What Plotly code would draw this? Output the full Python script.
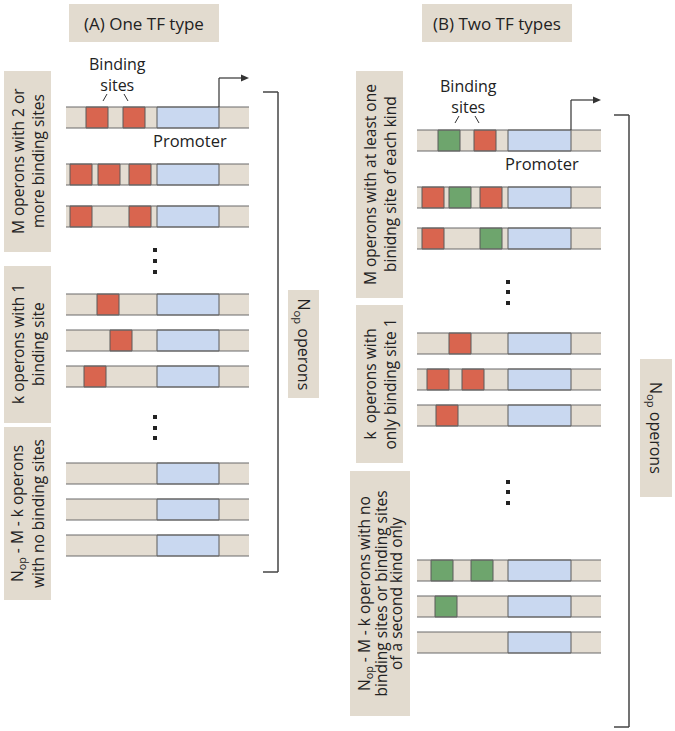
import plotly.graph_objects as go

# ---------------- data ----------------
titles = ["(A) One TF type", "(B) Two TF types"]

# Panel A: operon rows (top y in px) and binding-site starts (x)
rows_a_y = [107, 164, 206, 294, 330, 366, 463, 499, 535]
sites_a = [[86, 123], [70, 98, 129], [70, 129], [97], [110], [84], [], [], []]

# Panel B: operon rows and binding sites (x, kind)
rows_b_y = [130, 187, 228, 333, 369, 405, 560, 596, 632]
sites_b = [
    [(438, "g"), (474, "r")],
    [(422, "r"), (449, "g"), (480, "r")],
    [(422, "r"), (480, "g")],
    [(449, "r")],
    [(427, "r"), (462, "r")],
    [(436, "r")],
    [(431, "g"), (471, "g")],
    [(435, "g")],
    [],
]

labels_a = [
    ["M operons with 2 or", "more binding sites"],
    ["k operons with 1", "binding site"],
    ["N<sub>op</sub> - M - k operons", "with no binding sites"],
]
labels_b = [
    ["M operons with at least one", "binidng site of each kind"],
    ["k  operons with", "only binding site 1"],
    ["N<sub>op</sub> - M - k operons with no", "binding sites or binding sites", "of a second kind only"],
]
nop_label = "N<sub>op</sub> operons"
binding_label = "Binding<br>sites"
promoter_label = "Promoter"

# ---------------- style ----------------
BEIGE = "#e4ddd2"
BOX = "#e2dbcf"
RED = "#d9654f"
GREEN = "#6ea56d"
BLUE = "#c9d8f0"
EDGE = "#5a5a5a"
FONT = "Open Sans"
ROW_H = 21
SITE_W = 22

shapes = []
annos = []


def rect(x0, y0, x1, y1, fill, line=None, lw=1):
    shapes.append(dict(type="rect", xref="x", yref="y", x0=x0, y0=y0, x1=x1, y1=y1,
                       fillcolor=fill, line=dict(width=lw if line else 0, color=line or fill),
                       layer="above"))


def line(x0, y0, x1, y1, color=EDGE, w=1):
    shapes.append(dict(type="line", xref="x", yref="y", x0=x0, y0=y0, x1=x1, y1=y1,
                       line=dict(color=color, width=w), layer="above"))


def text(x, y, s, size=14, angle=0, color="#222"):
    annos.append(dict(x=x, y=y, xref="x", yref="y", text=s, showarrow=False,
                      textangle=angle, font=dict(family=FONT, size=size, color=color),
                      align="center", xanchor="center", yanchor="middle"))


def vlines(cx, cy, lines, spacing, size):
    n = len(lines)
    for i, s in enumerate(lines):
        text(cx + (i - (n - 1) / 2) * spacing, cy, s, size, -90)


def operon(x0, x1, px0, px1, y, sites):
    rect(x0, y, x1, y + ROW_H, BEIGE)
    for sx, kind in sites:
        rect(sx, y, sx + SITE_W, y + ROW_H, RED if kind == "r" else GREEN, EDGE, 1)
    rect(px0, y, px1, y + ROW_H, BLUE, EDGE, 1)
    line(x0, y, x1, y, "#6a6a6a", 1.2)
    line(x0, y + ROW_H, x1, y + ROW_H, "#6a6a6a", 1.2)


def dots(x, ys):
    for yy in ys:
        rect(x - 2, yy - 2, x + 2, yy + 2, "#222")


def arrow(x0, y0, ytop, xend):
    line(x0, y0, x0, ytop, "#333", 1.2)
    line(x0, ytop, xend - 6, ytop, "#333", 1.2)
    shapes.append(dict(type="path", xref="x", yref="y",
                       path=f"M {xend-8},{ytop-3.5} L {xend},{ytop} L {xend-8},{ytop+3.5} Z",
                       fillcolor="#333", line=dict(width=0), layer="above"))


# titles
rect(69, 4, 219, 42, BOX)
text(144, 23, titles[0], 17)
rect(422, 4, 572, 42, BOX)
text(497, 23, titles[1], 17)

# ---------------- panel A ----------------
for y, s in zip(rows_a_y, sites_a):
    operon(66, 249, 157, 219, y, [(v, "r") for v in s])
dots(155, [250, 261, 272])
dots(155, [417, 428, 438])

text(117, 74, binding_label, 16)
line(103, 101, 107, 94, "#333", 1)
line(124, 94, 128, 101, "#333", 1)
text(190, 140, promoter_label, 16.5)

arrow(219, 107, 78, 249)

# bracket A
line(278, 92, 278, 572, "#444", 1.5)
line(263, 92, 278, 92, "#444", 1.5)
line(263, 572, 278, 572, "#444", 1.5)
rect(288, 290, 319, 398, BOX)
text(303.5, 344, nop_label, 16, 90)

# labels A
rect(4, 71, 51, 252, BOX)
vlines(27.5, 161.5, labels_a[0], 20, 15.5)
rect(4, 266, 51, 423, BOX)
vlines(27.5, 344.5, labels_a[1], 20, 15.5)
rect(4, 427, 51, 600, BOX)
vlines(27.5, 513.5, labels_a[2], 20, 15.5)

# ---------------- panel B ----------------
for y, s in zip(rows_b_y, sites_b):
    operon(417, 601, 508, 571, y, s)
dots(508, [282, 292, 303])
dots(508, [482, 492, 503])

text(468, 96, binding_label, 16)
line(455, 123, 459, 116, "#333", 1)
line(475, 116, 479, 123, "#333", 1)
text(542, 163, promoter_label, 16.5)

arrow(571, 130, 100, 601)

line(629, 115, 629, 727, "#444", 1.5)
line(614, 115, 629, 115, "#444", 1.5)
line(614, 727, 629, 727, "#444", 1.5)
rect(640, 359, 672, 497, BOX)
text(656, 428, nop_label, 16, 90)

rect(356, 71, 403, 298, BOX)
vlines(379.5, 184.5, labels_b[0], 20, 15.5)
rect(356, 305, 403, 463, BOX)
vlines(379.5, 384, labels_b[1], 20, 15.5)
rect(350, 471, 410, 716, BOX)
vlines(380, 593.5, labels_b[2], 15.5, 15.5)

fig = go.Figure()
fig.update_layout(
    width=675, height=731, margin=dict(l=0, r=0, t=0, b=0),
    paper_bgcolor="white", plot_bgcolor="white",
    xaxis=dict(range=[0, 675], visible=False, fixedrange=True),
    yaxis=dict(range=[731, 0], visible=False, fixedrange=True),
    shapes=shapes, annotations=annos, showlegend=False,
)
fig.write_html("out.html", config={"displayModeBar": False},
               post_script="document.body.style.margin='0';document.body.style.overflow='hidden';")
